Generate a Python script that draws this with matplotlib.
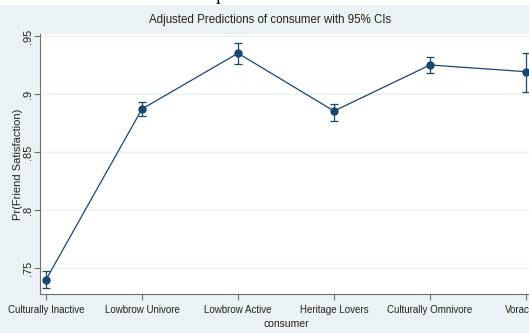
import matplotlib.pyplot as plt

# adjusted predictions (margins) by consumer group
groups = ['Culturally Inactive', 'Lowbrow Univore', 'Lowbrow Active',
          'Heritage Lovers', 'Culturally Omnivore', 'Voracious']
pred = [0.7399, 0.8871, 0.9351, 0.8853, 0.9250, 0.9192]
ci_low = [0.7325, 0.8810, 0.9256, 0.8770, 0.9178, 0.9020]
ci_high = [0.7474, 0.8934, 0.9437, 0.8914, 0.9316, 0.9355]

yticks = [0.75, 0.8, 0.85, 0.9, 0.95]
yticklabels = ['.75', '.8', '.85', '.9', '.95']

plt.rcParams['font.family'] = ['Liberation Sans', 'DejaVu Sans']

navy = '#1a476f'
bg = '#eaf2f3'
txt = '#222222'

fig = plt.figure(figsize=(5.29, 3.33), dpi=100, facecolor=bg)
W, H = 529, 333

# white strip of the page above the graph
fig.patches.append(plt.Rectangle((0, 1 - 5 / H), 1, 5 / H, transform=fig.transFigure,
                                 facecolor='white', edgecolor='none', zorder=0))
fig.text(221 / W, 1.0, 'p', family='Liberation Serif', fontsize=14,
         ha='center', va='baseline', color='black')

ax = fig.add_axes([40 / W, 1 - 294 / H, 492 / W, 260 / H])
ax.set_facecolor('white')

x = list(range(len(groups)))
yerr = [[p - lo for p, lo in zip(pred, ci_low)], [hi - p for p, hi in zip(pred, ci_high)]]
ax.errorbar(x, pred, yerr=yerr, fmt='none', ecolor=navy, elinewidth=0.9,
            capsize=3, capthick=0.9, zorder=3)
ax.plot(x, pred, color=navy, lw=0.9, marker='o', ms=5, zorder=4)

ax.set_xlim(-0.0625, 5.0625)
ax.set_ylim(0.7276, 0.9517)
ax.set_yticks(yticks)
ax.set_yticklabels(yticklabels, rotation=90, va='center', fontsize=8)
ax.set_xticks(x)
ax.set_xticklabels(groups, fontsize=7)
ax.grid(axis='y', color=bg, lw=1)
ax.set_axisbelow(True)

for s in ['top', 'right']:
    ax.spines[s].set_visible(False)
for s in ['left', 'bottom']:
    ax.spines[s].set_color('#6e6e6e')
    ax.spines[s].set_linewidth(0.8)
ax.tick_params(length=4, width=0.8, color='#6e6e6e', labelcolor=txt)
ax.tick_params(axis='y', pad=1)
ax.tick_params(axis='x', pad=4)

ax.set_xlabel('consumer', fontsize=7.5, color=txt, labelpad=3)
ax.set_ylabel('Pr(Friend Satisfaction)', fontsize=8, color=txt)
ax.yaxis.set_label_coords(-17 / 492, 0.5)
fig.text(270 / W, 1 - 20 / H, 'Adjusted Predictions of consumer with 95% CIs',
         ha='center', va='center', fontsize=8.3, color=txt)

fig.savefig('out.png', dpi=100, facecolor=bg)
